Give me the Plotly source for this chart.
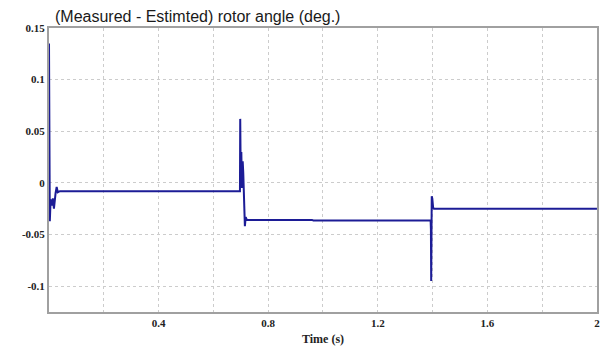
import plotly.graph_objects as go

# Time (s) and error (deg.) samples
time_s = [0.0, 0.001, 0.002, 0.003, 0.006, 0.010, 0.014, 0.018, 0.024, 0.028, 0.032, 0.040,
          0.697, 0.698, 0.700, 0.702, 0.704, 0.707, 0.709, 0.712, 0.715, 0.718, 0.722,
          0.960, 0.965,
          1.393, 1.394, 1.395, 1.396, 1.397, 1.399, 1.402, 1.405, 2.0]
angle_err = [0.135, 0.045, 0.020, -0.037, -0.016, -0.022, -0.015, -0.025, -0.010, -0.004, -0.009, -0.008,
             -0.008, 0.062, 0.000, 0.030, -0.005, 0.021, 0.010, -0.020, -0.042, -0.033, -0.0358,
             -0.0358, -0.0365,
             -0.0365, -0.045, -0.095, -0.050, -0.013, -0.015, -0.024, -0.025, -0.025]

x_tickvals = [0.4, 0.8, 1.2, 1.6, 2.0]
x_ticktext = ["0.4", "0.8", "1.2", "1.6", "2"]
y_tickvals = [0.15, 0.1, 0.05, 0.0, -0.05, -0.1]
y_ticktext = ["0.15", "0.1", "0.05", "0", "-0.05", "-0.1"]

tickfont = dict(family="Liberation Serif", size=11, color="#222222")

fig = go.Figure()
fig.add_trace(go.Scatter(x=time_s, y=angle_err, mode="lines",
                         line=dict(color="#1c1c96", width=2)))

fig.update_layout(
    width=605, height=349,
    margin=dict(l=49, r=8, t=28, b=37),
    paper_bgcolor="white", plot_bgcolor="white",
    showlegend=False,
    title=dict(text="(Measured - Estimted) rotor angle (deg.)",
               font=dict(family="Liberation Sans", size=16, color="#1a1a1a"),
               x=55/605, xanchor="left", y=1 - 16/349, yanchor="middle"),
)
fig.update_xaxes(
    range=[0, 2.0002], tickvals=x_tickvals,
    ticktext=["<b>%s</b>" % t for t in x_ticktext], tickfont=tickfont,
    showgrid=True, gridcolor="#cccccc", griddash="dot", gridwidth=1,
    minor=dict(dtick=0.2, tick0=0, showgrid=True, gridcolor="#cccccc", griddash="dot", gridwidth=1),
    showline=True, linecolor="#a0a0a0", linewidth=2, mirror=True,
    zeroline=False, ticks="", ticklen=0, automargin=False,
    title=dict(text="<b>Time (s)</b>", font=dict(family="Liberation Serif", size=12, color="#222222"), standoff=6),
)
fig.update_yaxes(
    range=[-0.125, 0.15], tickvals=y_tickvals,
    ticktext=["<b>%s</b>" % t for t in y_ticktext], tickfont=tickfont,
    showgrid=True, gridcolor="#cccccc", griddash="dot", gridwidth=1,
    showline=True, linecolor="#a0a0a0", linewidth=2, mirror=True,
    zeroline=False, ticks="", ticklen=0, automargin=False,
)

fig.write_html("out.html", config={"displayModeBar": False},
               post_script="document.body.style.margin='0';")
